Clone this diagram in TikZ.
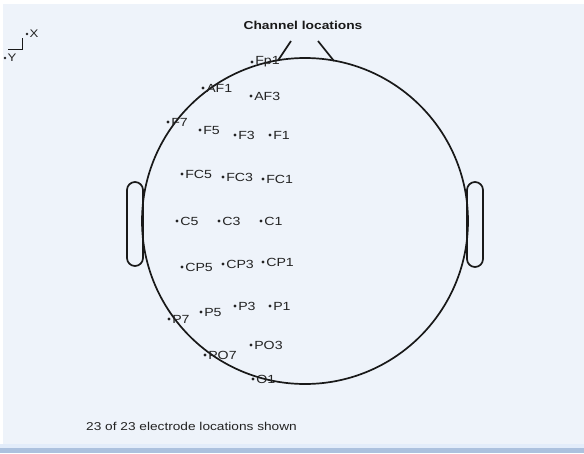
\documentclass[tikz,border=0pt]{standalone}
\usepackage{fontspec}
\setmainfont[FakeStretch=1.2]{Liberation Sans}
\definecolor{bgc}{RGB}{238,243,250}
\definecolor{bandc}{RGB}{172,193,222}
\definecolor{bandl}{RGB}{226,236,250}
\definecolor{inkc}{RGB}{25,25,25}
\definecolor{txtc}{RGB}{35,35,35}
\tikzset{
  headline/.style={draw=inkc, line width=1.7pt},
  edot/.style={circle, fill=txtc, inner sep=0pt, minimum size=3.2pt},
  elbl/.style={anchor=west, inner sep=0pt, text=txtc, font=\fontsize{11.8}{14}\selectfont},
}
\newcommand{\electrode}[3]{%
  \node[edot] (#1) at (#2,#3) {};
  \node[elbl] (#1-t) at ([xshift=1.3pt]#1.east) {#1};
}
\begin{document}
\begin{tikzpicture}[x=1pt,y=-1pt]
\useasboundingbox (0,0) rectangle (584,453);
\fill[bgc] (0,0) rectangle (584,453);
\fill[white] (0,0) rectangle (584,4);
\fill[white] (0,0) rectangle (3,453);
\fill[bandl] (0,444) rectangle (584,448);
\fill[bandc] (0,448) rectangle (584,453);

% axes indicator
\coordinate (axc) at (22,49);
\coordinate (axt) at (22,38);
\coordinate (axl) at (8,49);
\draw[inkc, line width=0.9pt] (axt) -- (axc) -- (axl);
\node[edot, minimum size=2.6pt] (xd) at (27,34) {};
\node[elbl, font=\fontsize{11}{13}\selectfont] (xl) at ([xshift=1pt]xd.east) {X};
\node[edot, minimum size=2.6pt] (yd) at (5,58) {};
\node[elbl, font=\fontsize{11}{13}\selectfont] (yl) at ([xshift=1pt]yd.east) {Y};

% title
\node[text=inkc, font=\bfseries\fontsize{11.5}{13}\selectfont] (title) at (303,25) {Channel locations};

% head
\coordinate (hc) at (305,221);
\draw[headline] (hc) circle (163);
% nose
\coordinate (n1) at (278,60.5);
\coordinate (n2) at (291,41);
\coordinate (n3) at (318,41);
\coordinate (n4) at (334,61);
\draw[headline] (n1) -- (n2);
\draw[headline] (n3) -- (n4);
% ears
\draw[headline, rounded corners=8pt] (127,182) rectangle (143,266);
\draw[headline, rounded corners=8pt] (467,182) rectangle (483,267);

% electrodes
\electrode{Fp1}{252}{62}
\electrode{AF1}{203}{88}
\electrode{AF3}{251}{96}
\electrode{F7}{168}{122}
\electrode{F5}{200}{130}
\electrode{F3}{235}{135}
\electrode{F1}{270}{135}
\electrode{FC5}{182}{174}
\electrode{FC3}{223}{177}
\electrode{FC1}{263}{179}
\electrode{C5}{177}{221}
\electrode{C3}{219}{221}
\electrode{C1}{261}{221}
\electrode{CP5}{182}{267}
\electrode{CP3}{223}{264}
\electrode{CP1}{263}{262}
\electrode{P7}{169}{319}
\electrode{P5}{201}{312}
\electrode{P3}{235}{306}
\electrode{P1}{270}{306}
\electrode{PO3}{251}{345}
\electrode{PO7}{205}{355}
\electrode{O1}{253}{379}

% footer
\node[anchor=west, inner sep=0pt, text=txtc, font=\fontsize{11.4}{13}\selectfont] (foot) at (86,426) {23 of 23 electrode locations shown};
\end{tikzpicture}
\end{document}
